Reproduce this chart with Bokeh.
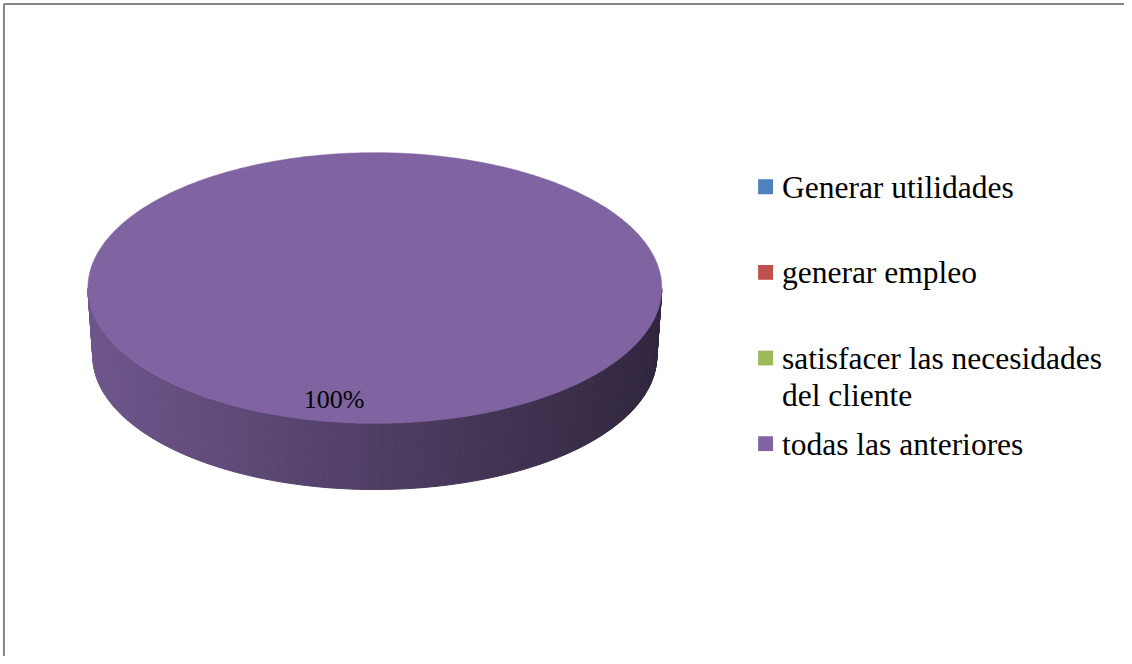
import textwrap
import numpy as np
from bokeh.plotting import figure
from bokeh.models import Range1d
from bokeh.core.properties import value
from bokeh.embed import file_html
from bokeh.resources import INLINE

# ---- data ----
categories = ["Generar utilidades", "generar empleo",
              "satisfacer las necesidades del cliente", "todas las anteriores"]
values = [0, 0, 0, 100]
colors = ["#4F81BD", "#C0504D", "#9BBB59", "#8064A2"]

# ---- geometry (reference-image pixel coordinates) ----
W, H = 1124, 656
CX, CY, RX, RY = 377.0, 291.0, 289.0, 137.0       # top ellipse
CXB, CYB, RXB, RYB = 377.0, 360.0, 284.0, 135.0   # bottom ellipse (slight perspective)
START = np.deg2rad(80.0)
FONT = "Liberation Serif"
TXT_SHIFT = -8   # baseline correction

p = figure(width=W, height=H, output_backend="svg", toolbar_location=None,
           x_range=Range1d(0, 1132), y_range=Range1d(664, 0),
           min_border=0, outline_line_color=None)
p.axis.visible = False
p.grid.visible = False
p.background_fill_color = "white"
p.border_fill_color = "white"

# frame lines (top & left visible in the reference)
p.line([3.5, 3.5], [664, 3.5], line_color="#858585", line_width=2)
p.line([3.5, 1132], [3.5, 3.5], line_color="#858585", line_width=2)


def hex_rgb(h):
    h = h.lstrip("#")
    return tuple(int(h[i:i + 2], 16) for i in (0, 2, 4))


def shade(h, f):
    r, g, b = hex_rgb(h)
    return "#%02x%02x%02x" % tuple(max(0, min(255, int(round(c * f)))) for c in (r, g, b))


total = float(sum(values))
cum = 0.0
side_xs, side_ys, side_cols = [], [], []
top_xs, top_ys, top_cols = [], [], []
lab_x, lab_y, lab_t = [], [], []
for v, col in zip(values, colors):
    frac = v / total
    a0 = START - 2 * np.pi * cum
    a1 = a0 - 2 * np.pi * frac
    cum += frac
    if frac <= 0:
        continue
    n = max(3, int(400 * frac))
    ang = np.linspace(a0, a1, n)
    # top face
    tx = [CX] + list(CX + RX * np.cos(ang)) + [CX]
    ty = [CY] + list(CY - RY * np.sin(ang)) + [CY]
    top_xs.append(tx); top_ys.append(ty); top_cols.append(col)
    # side strips on the front half
    for i in range(n - 1):
        pa, pb = ang[i], ang[i + 1]
        if np.sin((pa + pb) / 2) > 0:
            continue
        xa, xb = CX + RX * np.cos(pa), CX + RX * np.cos(pb)
        ya, yb = CY - RY * np.sin(pa), CY - RY * np.sin(pb)
        xba, xbb = CXB + RXB * np.cos(pa), CXB + RXB * np.cos(pb)
        yba, ybb = CYB - RYB * np.sin(pa), CYB - RYB * np.sin(pb)
        side_xs.append([xa, xb, xbb, xba])
        side_ys.append([ya, yb, ybb, yba])
        xm = (xa + xb) / 2
        f = 0.86 - 0.48 * (xm - (CX - RX)) / (2 * RX)
        side_cols.append(shade(col, f))
    mid = (a0 + a1) / 2
    lab_x.append(CX + 0.82 * RX * np.cos(mid))
    lab_y.append(CY - 0.82 * RY * np.sin(mid) + 10 + TXT_SHIFT)
    lab_t.append(f"{round(frac * 100)}%")

p.patches(side_xs, side_ys, fill_color=side_cols, line_color=side_cols, line_width=1)
p.patches(top_xs, top_ys, fill_color=top_cols, line_color=top_cols, line_width=0.5)
p.text(lab_x, lab_y, text=lab_t, text_font=value(FONT), text_font_size="26px",
       text_align="center", text_baseline="alphabetic", text_color="black")

# ---- legend ----
LX, LT, LB0, LSTEP, LLINE, SQ = 763, 787, 197, 86.7, 37, 15
sq_x, sq_y, sq_c = [], [], []
tx_x, tx_y, tx_t = [], [], []
for i, (cat, col) in enumerate(zip(categories, colors)):
    base = LB0 + LSTEP * i
    sq_x.append(LX + SQ / 2); sq_y.append(base - 16 + SQ / 2); sq_c.append(col)
    for j, line in enumerate(textwrap.wrap(cat, 26)):
        tx_x.append(LT); tx_y.append(base + LLINE * j + TXT_SHIFT); tx_t.append(line)
p.rect(sq_x, sq_y, width=SQ, height=SQ, fill_color=sq_c, line_color=None)
p.text(tx_x, tx_y, text=tx_t, text_font=value(FONT), text_font_size="31.5px",
       text_align="left", text_baseline="alphabetic", text_color="black")

open("out.html", "w").write(file_html(p, INLINE))
